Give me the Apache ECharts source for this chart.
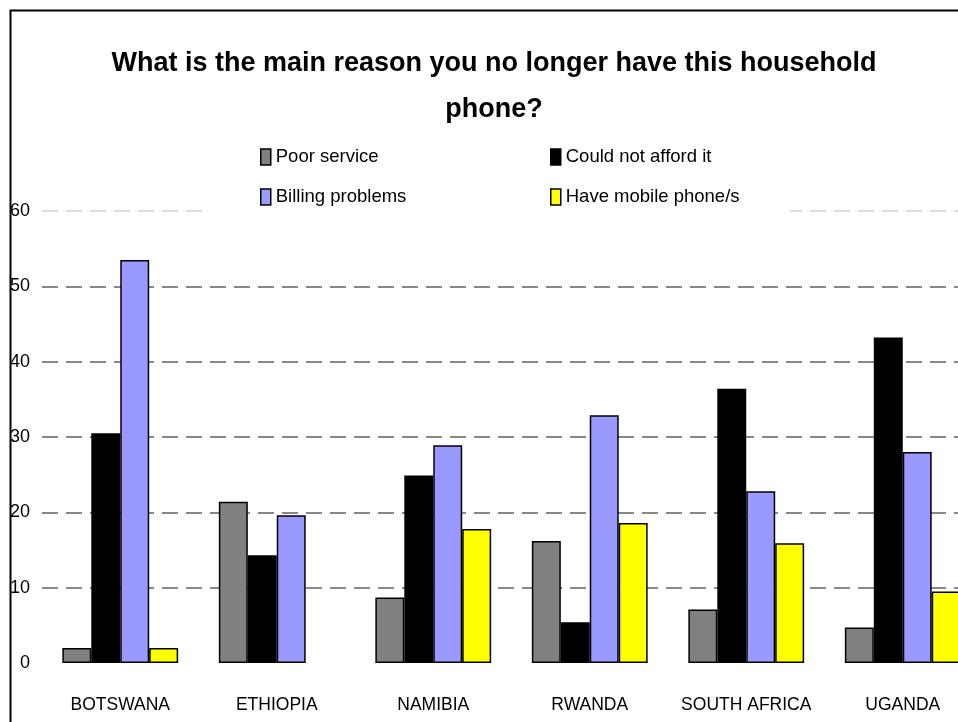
<!DOCTYPE html>
<html>
<head>
<meta charset="utf-8">
<script src="https://cdn.jsdelivr.net/npm/echarts@6/dist/echarts.min.js"></script>
<style>
  html, body { margin: 0; padding: 0; background: #fff; overflow: hidden; }
  #chart { width: 958px; height: 722px; }
</style>
</head>
<body>
<div id="chart"></div>
<script>
  const countries = ['BOTSWANA', 'ETHIOPIA', 'NAMIBIA', 'RWANDA', 'SOUTH AFRICA', 'UGANDA'];
  const poorService = [2.0, 21.4, 8.7, 16.2, 7.1, 4.7];
  const couldNotAfford = [30.5, 14.3, 24.9, 5.4, 36.4, 43.2];
  const billingProblems = [53.5, 19.6, 28.9, 32.9, 22.8, 28.0];
  const haveMobile = [2.0, null, 17.8, 18.6, 15.9, 9.5];
  const yTicks = [0, 10, 20, 30, 40, 50, 60];

  const font = '"Liberation Sans", Arial, sans-serif';
  const chart = echarts.init(document.getElementById('chart'));

  const barSeries = (name, data, color) => ({
    name: name,
    type: 'bar',
    data: data,
    barGap: '0%',
    barCategoryGap: '26%',
    itemStyle: {
      color: color,
      borderColor: '#000',
      borderWidth: 1.5
    }
  });

  const legendBase = {
    orient: 'vertical',
    top: 138,
    icon: 'rect',
    itemWidth: 10,
    itemHeight: 16,
    itemGap: 18,
    backgroundColor: '#fff',
    textStyle: { fontFamily: font, fontSize: 18.5, color: '#000', lineHeight: 22 },
    itemStyle: { borderColor: '#000', borderWidth: 1.5 }
  };

  const option = {
    animation: false,
    backgroundColor: '#fff',
    title: {
      text: 'What is the main reason you no longer have this household\nphone?',
      left: 489,
      top: 36,
      textAlign: 'center',
      textStyle: {
        fontFamily: font,
        fontSize: 27,
        fontWeight: 'bold',
        color: '#000',
        lineHeight: 46
      }
    },
    legend: [
      Object.assign({}, legendBase, {
        left: 205,
        padding: [8, 140, 8, 55],
        data: ['Poor service', 'Billing problems']
      }),
      Object.assign({}, legendBase, {
        left: 545,
        padding: [8, 50, 8, 5],
        data: ['Could not afford it', 'Have mobile phone/s']
      })
    ],
    grid: {
      left: 42,
      width: 939,
      top: 211,
      bottom: 59,
      containLabel: false,
      outerBoundsMode: 'none'
    },
    xAxis: {
      type: 'category',
      data: countries,
      axisLine: { show: false },
      axisTick: { show: false },
      axisLabel: {
        interval: 0,
        fontFamily: font,
        fontSize: 17.5,
        color: '#000',
        margin: 33
      }
    },
    yAxis: {
      type: 'value',
      min: yTicks[0],
      max: yTicks[yTicks.length - 1],
      interval: 10,
      axisLine: { show: false },
      axisTick: { show: false },
      axisLabel: {
        fontFamily: font,
        fontSize: 18,
        color: '#000',
        margin: 12
      },
      splitLine: {
        lineStyle: {
          color: ['rgba(0,0,0,0)', '#888', '#888', '#888', '#888', '#888', '#ddd'],
          width: 2,
          type: [16, 8]
        }
      }
    },
    graphic: [{
      type: 'rect',
      left: 8,
      top: 8,
      z: 100,
      silent: true,
      shape: { width: 1000, height: 1000 },
      style: { fill: 'none', stroke: '#000', lineWidth: 2 }
    }],
    series: [
      barSeries('Poor service', poorService, '#808080'),
      barSeries('Could not afford it', couldNotAfford, '#000000'),
      barSeries('Billing problems', billingProblems, '#9999ff'),
      barSeries('Have mobile phone/s', haveMobile, '#ffff00')
    ]
  };

  chart.setOption(option);
</script>
</body>
</html>
